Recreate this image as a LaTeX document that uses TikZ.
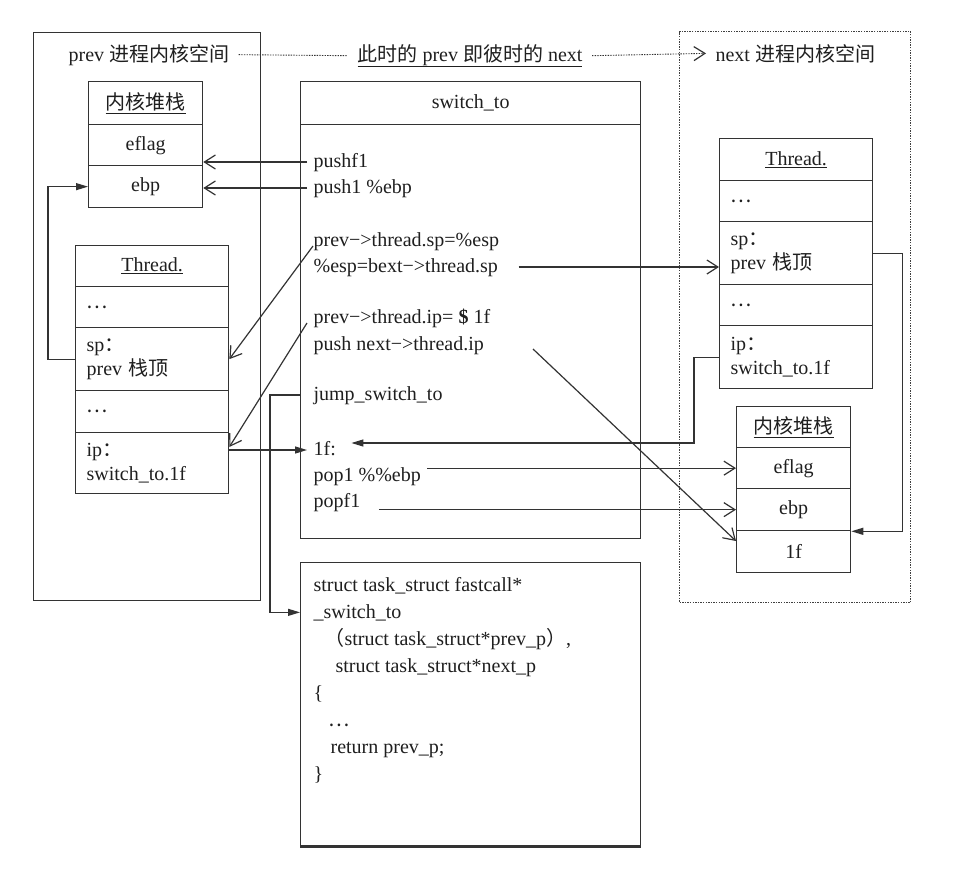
\documentclass[tikz,border=0pt]{standalone}
\usepackage{fontspec}
\setmainfont{Liberation Serif}
\newfontfamily\cjkf{Noto Sans CJK SC}
\newcommand\zh[1]{{\cjkf #1}}
\usetikzlibrary{arrows.meta}
\begin{document}
\begin{tikzpicture}[x=1pt,y=-1pt,black!80,line width=1.2pt,
  every node/.style={font=\fontsize{20}{24}\selectfont, text=black!88},
  cellbox/.style={draw=black!80, line width=1.3pt, anchor=north west, inner sep=0pt},
  ccell/.style={cellbox, align=center},
  lcell/.style={cellbox, align=left, inner xsep=11pt, text width=131pt, minimum width=153pt},
  codeln/.style={anchor=base west, inner sep=0pt, text height=10pt, text depth=0pt},
  scode/.style={anchor=base west, inner sep=0pt},
  ttl/.style={inner xsep=9pt, inner ysep=2pt},
  oarr/.style={-{Straight Barb[length=11pt,width=14pt]}, line width=1.2pt},
  farr/.style={-{Triangle[length=12pt,width=7pt]}, line width=1.2pt},
  dotline/.style={line width=0.9pt, dash pattern=on 1.4pt off 1.2pt}
]
\fill[white] (0,0) rectangle (954,871);
\useasboundingbox (0,0) rectangle (954,871);

% spaces
\node[cellbox, minimum width=227pt, minimum height=568pt] (prevsp) at (33,32) {};
\node[cellbox, draw=black!75, line width=1pt, dash pattern=on 1.4pt off 1.2pt, minimum width=231pt, minimum height=571pt] (nextsp) at (679,31) {};

% titles
\node[ttl, anchor=base west] (prevttl) at (59,61) {prev \zh{进程内核空间}};
\node[ttl, anchor=base] (mid) at (470,61) {\underline{\zh{此时的} prev \zh{即彼时的} next}};
\node[ttl, anchor=base west] (nextttl) at (706,61) {next \zh{进程内核空间}};

% left kernel stack
\node[ccell, minimum width=114pt, minimum height=43pt] (ls0) at (88,81) {\underline{\zh{内核堆栈}}};
\node[ccell, minimum width=114pt, minimum height=41pt] (ls1) at (88,124) {eflag};
\node[ccell, minimum width=114pt, minimum height=42pt] (ls2) at (88,165) {ebp};

% left thread
\node[ccell, minimum width=153pt, minimum height=41pt] (lt0) at (75,245) {\underline{Thread.}};
\node[lcell, minimum height=41pt] (lt1) at (75,286) {\zh{…}};
\node[lcell, minimum height=63pt] (lt2) at (75,327) {sp\zh{：}\\prev \zh{栈顶}};
\node[lcell, minimum height=42pt] (lt3) at (75,390) {\zh{…}};
\node[lcell, minimum height=61pt] (lt4) at (75,432) {ip\zh{：}\\switch\_to.1f};

% switch_to
\node[ccell, minimum width=340pt, minimum height=43pt] (sw0) at (300,81) {switch\_to};
\node[cellbox, minimum width=340pt, minimum height=414pt] (sw1) at (300,124) {};
\node[codeln] (c1) at (313,167) {pushf1};
\node[codeln] (c2) at (313,193) {push1 \%ebp};
\node[codeln] (c3) at (313,246) {prev−>thread.sp=\%esp};
\node[codeln] (c4) at (313,272) {\%esp=bext−>thread.sp};
\node[codeln] (c5) at (313,323) {prev−>thread.ip= \textbf{\$} 1f};
\node[codeln] (c6) at (313,350) {push next−>thread.ip};
\node[codeln] (c7) at (313,400) {jump\_switch\_to};
\node[codeln] (c8) at (313,455) {1f:};
\node[codeln] (c9) at (313,481) {pop1 \%\%ebp};
\node[codeln] (c10) at (313,507) {popf1};

% struct box
\node[cellbox, minimum width=340pt, minimum height=283pt] (st) at (300,562) {};
\draw[line width=3pt] (st.south west) -- (st.south east);
\node[scode] (s1) at (313,591) {struct task\_struct fastcall*};
\node[scode] (s2) at (313,618) {\_switch\_to};
\node[scode] (s3) at (324,645) {\zh{（}struct task\_struct*prev\_p\zh{）},};
\node[scode] (s4) at (335,672) {struct task\_struct*next\_p};
\node[scode] (s5) at (313,699) {\{};
\node[scode] (s6) at (328,726) {\zh{…}};
\node[scode] (s7) at (330,753) {return prev\_p;};
\node[scode] (s8) at (313,780) {\}};

% right thread
\node[ccell, minimum width=153pt, minimum height=42pt] (rt0) at (719,138) {\underline{Thread.}};
\node[lcell, minimum height=41pt] (rt1) at (719,180) {\zh{…}};
\node[lcell, minimum height=63pt] (rt2) at (719,221) {sp\zh{：}\\prev \zh{栈顶}};
\node[lcell, minimum height=41pt] (rt3) at (719,284) {\zh{…}};
\node[lcell, minimum height=63pt] (rt4) at (719,325) {ip\zh{：}\\switch\_to.1f};

% right kernel stack
\node[ccell, minimum width=114pt, minimum height=41pt] (rs0) at (736,406) {\underline{\zh{内核堆栈}}};
\node[ccell, minimum width=114pt, minimum height=41pt] (rs1) at (736,447) {eflag};
\node[ccell, minimum width=114pt, minimum height=42pt] (rs2) at (736,488) {ebp};
\node[ccell, minimum width=114pt, minimum height=42pt] (rs3) at (736,530) {1f};

\coordinate (pnstart) at (533,349);

% connectors
\draw[dotline] (prevttl.east) -- (mid.west);
\draw[dotline, -{Straight Barb[length=11pt,width=14pt,line width=1.2pt]}] (mid.east) -- (nextttl.west);

\draw[oarr] ([xshift=-6pt]c1.west) -- (c1.west -| ls1.east);
\draw[oarr] ([xshift=-6pt]c2.west) -- (c2.west -| ls2.east);
\draw[oarr] (c3.base west) -- (lt2.east);
\draw[oarr] ([xshift=-6pt]c5.base west) -- ([yshift=-15pt]lt4.north east);
\draw[farr] (c8.west -| lt4.east) -- ([xshift=-6pt]c8.west);
\draw[farr] (c7.west -| sw1.west) -- ++(-30,0) |- (s2.west -| st.west);
\draw[farr] (lt2.west) -- ++(-27,0) |- (ls2.west);

\draw[oarr] ([xshift=20pt]c4.east) -- (c4.east -| rt2.west);
\draw[farr] (rt2.east) -- ++(29,0) |- (rs2.south east);
\draw[farr] (rt4.west) -- ++(-25,0) |- ([xshift=15pt,yshift=7pt]c8.east);
\draw[oarr] ([xshift=6pt]c9.east |- rs1.west) -- (rs1.west);
\draw[oarr] ([xshift=18pt]c10.east |- rs2.west) -- (rs2.west);
\draw[oarr] (pnstart) -- ([yshift=-11pt]rs3.north west);
\end{tikzpicture}
\end{document}
